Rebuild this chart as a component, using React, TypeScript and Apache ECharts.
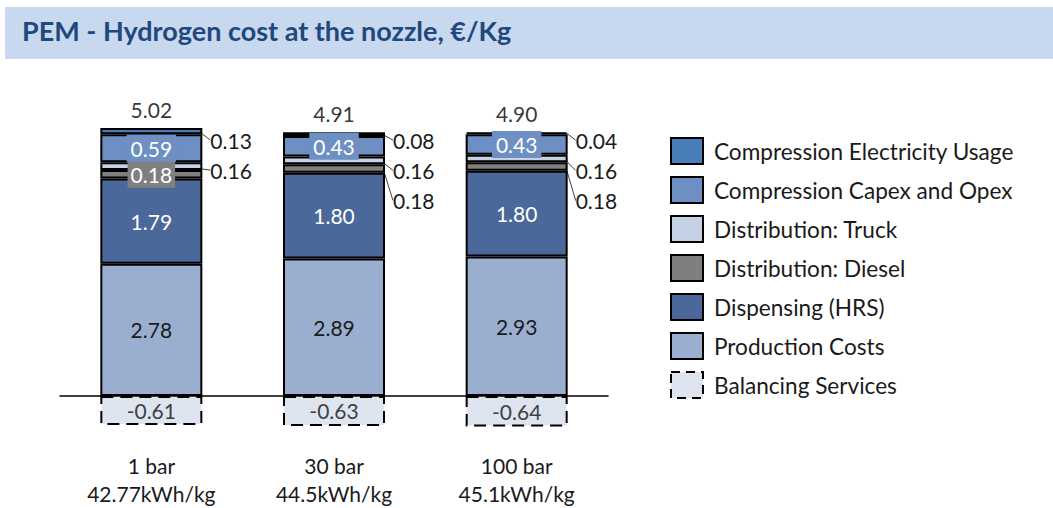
import React, { useEffect, useRef } from "react";
import * as echarts from "echarts";

const categories = ["1 bar\n42.77kWh/kg", "30 bar\n44.5kWh/kg", "100 bar\n45.1kWh/kg"];
const production = [2.78, 2.89, 2.93];
const dispensing = [1.79, 1.8, 1.8];
const diesel = [0.18, 0.18, 0.18];
const truck = [0.16, 0.16, 0.16];
const compCapex = [0.59, 0.43, 0.43];
const compElec = [0.13, 0.08, 0.04];
const balancing = [-0.61, -0.63, -0.64];
const totals = [5.02, 4.91, 4.9];

const FONT = "Lato, 'Noto Sans', sans-serif";
const TXT = "#1a1a1a";

export default function App() {
  const ref = useRef<HTMLDivElement>(null);
  useEffect(() => {
    document.body.style.margin = "0";
    const chart = echarts.init(ref.current!, null, { renderer: "svg" });
    const border = { borderColor: "#000", borderWidth: 2 };
    const labelBase = { show: true, fontFamily: FONT, fontSize: 21, formatter: (p: any) => Number(p.value).toFixed(2) };
    const leader = { show: true, lineStyle: { color: "#404040", width: 1 } };
    // vertical shift of outside labels, by series index then category
    const shifts: Record<number, number[]> = {
      2: [0, 32, 34],
      3: [4, 10, 12],
      5: [9, 6, 7],
    };
    const layout = (p: any) => {
      const s = shifts[p.seriesIndex];
      if (!s) return {};
      if (p.seriesIndex === 2 && p.dataIndex === 0) return {};
      return { dy: s[p.dataIndex] };
    };
    const outsideLabel = { ...labelBase, position: "right", distance: 8, color: TXT };
    const posSum = production.map((v, i) => v + dispensing[i] + diesel[i] + truck[i] + compCapex[i] + compElec[i]);

    const bar = (name: string, data: any[], color: string, label: any, extra: any = {}) => ({
      name,
      type: "bar",
      stack: "total",
      barWidth: 102,
      data,
      itemStyle: { color, ...border, ...(extra.itemStyle || {}) },
      label,
      labelLine: extra.labelLine,
      labelLayout: layout,
    });

    const option: any = {
      animation: false,
      graphic: [
        { type: "rect", left: 5, top: 7, z: -10, shape: { width: 1048, height: 52 }, style: { fill: "#c8d8ee" } },
      ],
      title: {
        text: "PEM - Hydrogen cost at the nozzle, €/Kg",
        left: 22,
        top: 17,
        padding: 0,
        textStyle: { fontFamily: FONT, fontSize: 27, fontWeight: "bold", color: "#1f497d" },
      },
      grid: { left: 60, width: 548, top: 110.4, height: 333.2, outerBoundsMode: "none", containLabel: false },
      xAxis: {
        type: "category",
        data: categories,
        axisLine: { onZero: true, lineStyle: { color: "#000", width: 1.5 } },
        axisTick: { show: false },
        axisLabel: { margin: 8, fontSize: 21, lineHeight: 28, color: TXT, fontFamily: FONT },
      },
      yAxis: { type: "value", min: -1, max: 6, show: false, splitLine: { show: false } },
      legend: {
        orient: "vertical",
        left: 670,
        top: 137,
        padding: 0,
        itemWidth: 32,
        itemHeight: 26,
        itemGap: 11,
        icon: "rect",
        data: [
          "Compression Electricity Usage",
          "Compression Capex and Opex",
          "Distribution: Truck",
          "Distribution: Diesel",
          "Dispensing (HRS)",
          "Production Costs",
          { name: "Balancing Services", itemStyle: { borderType: [9, 6], borderColor: "#000", borderWidth: 2 } },
        ],
        textStyle: { fontFamily: FONT, fontSize: 22.6, lineHeight: 26, color: TXT, padding: [0, 0, 0, 6] },
      },
      series: [
        bar("Production Costs", production, "#9aafd0", { ...labelBase, position: "inside", color: TXT }),
        bar("Dispensing (HRS)", dispensing, "#4a6899", { ...labelBase, position: "inside", color: "#fff" }),
        bar(
          "Distribution: Diesel",
          diesel.map((v, i) =>
            i === 0
              ? { value: v, label: { position: "inside", color: "#fff", backgroundColor: "#7f7f7f", padding: [4, 3, 2, 3] }, labelLine: { show: false } }
              : { value: v, label: { position: "right", distance: 8, color: TXT }, labelLine: { show: true } }
          ),
          "#7f7f7f",
          { ...labelBase },
          { labelLine: leader }
        ),
        bar("Distribution: Truck", truck, "#c5d1e4", outsideLabel, { labelLine: leader }),
        bar("Compression Capex and Opex", compCapex, "#6d8fc3", {
          ...labelBase,
          position: "inside",
          color: "#fff",
          backgroundColor: "#6d8fc3",
          padding: [4, 4, 2, 4],
        }),
        bar("Compression Electricity Usage", compElec, "#4a7ebb", outsideLabel, { labelLine: leader }),
        bar("Balancing Services", balancing, "#dfe5f0", { ...labelBase, position: "inside", color: "#404040" }, {
          itemStyle: { borderType: [12, 7] },
        }),
        {
          name: "Total",
          type: "scatter",
          data: posSum,
          symbolSize: 0,
          silent: true,
          label: {
            show: true,
            position: "top",
            distance: 8,
            fontFamily: FONT,
            fontSize: 21,
            color: "#000",
            formatter: (p: any) => totals[p.dataIndex].toFixed(2),
          },
        },
      ],
    };
    chart.setOption(option);
    return () => chart.dispose();
  }, []);
  return <div ref={ref} style={{ width: 1053, height: 508 }} />;
}
